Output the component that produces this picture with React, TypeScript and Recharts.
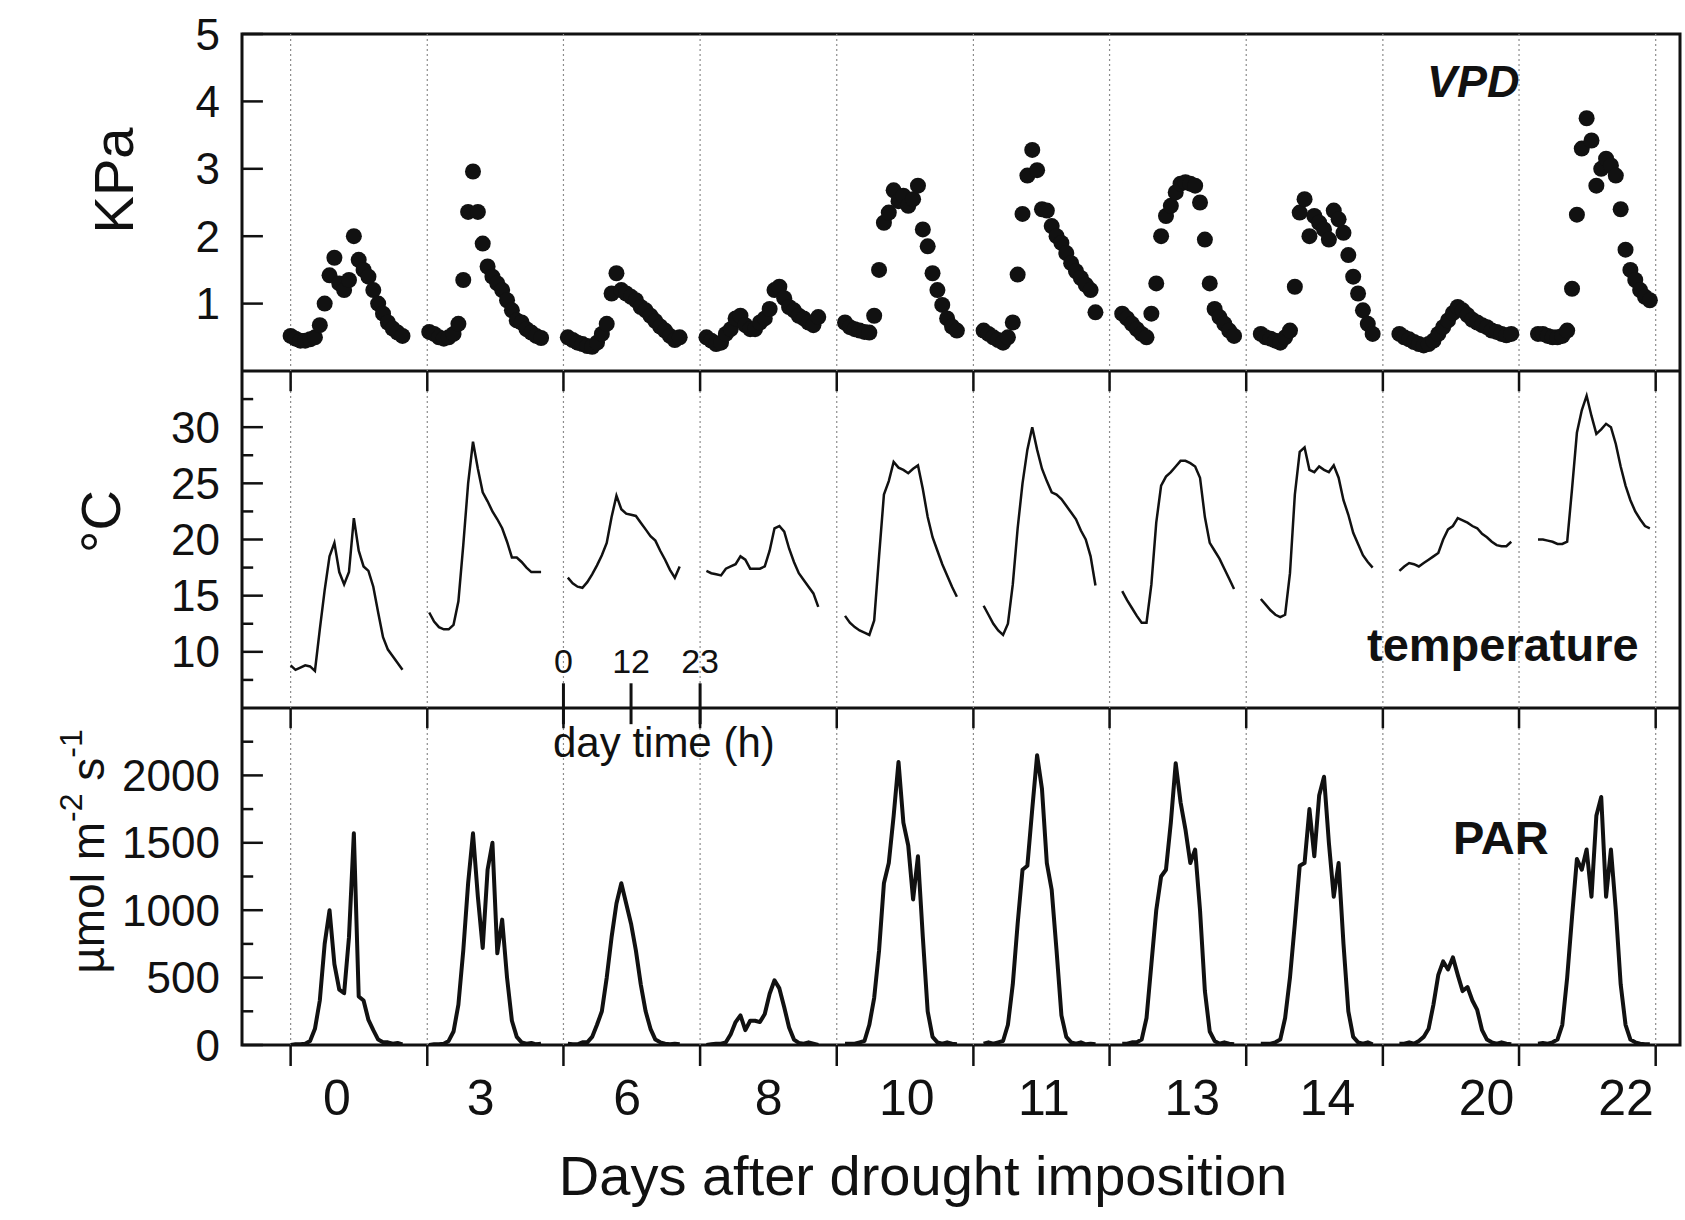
import React from 'react';
import { LineChart, Line, XAxis, YAxis, ReferenceLine, ReferenceArea } from 'recharts';

const FONT = '"Liberation Sans", Arial, Helvetica, sans-serif';
const INK = '#111';

// days after drought imposition (one group of 24 hourly readings per day)
const days = [0, 3, 6, 8, 10, 11, 13, 14, 20, 22];

// VPD, kPa, hours 0..23
const vpdByDay = [
  [0.52, 0.48, 0.45, 0.45, 0.47, 0.5, 0.68, 1.0, 1.42, 1.68, 1.3, 1.2, 1.35, 2.0, 1.65, 1.5, 1.4, 1.2, 1.0, 0.85, 0.72, 0.63, 0.57, 0.52],
  [0.58, 0.55, 0.5, 0.48, 0.5, 0.55, 0.7, 1.35, 2.36, 2.96, 2.36, 1.89, 1.55, 1.4, 1.3, 1.2, 1.05, 0.9, 0.75, 0.72, 0.62, 0.57, 0.52, 0.49],
  [0.5, 0.46, 0.42, 0.4, 0.37, 0.36, 0.42, 0.55, 0.7, 1.15, 1.45, 1.2, 1.15, 1.1, 1.05, 0.95, 0.9, 0.82, 0.74, 0.66, 0.6, 0.52, 0.46, 0.5],
  [0.5, 0.45, 0.4, 0.42, 0.55, 0.62, 0.78, 0.82, 0.68, 0.62, 0.62, 0.72, 0.78, 0.92, 1.2, 1.25, 1.08, 0.95, 0.9, 0.82, 0.78, 0.72, 0.68, 0.8],
  [0.72, 0.65, 0.62, 0.6, 0.58, 0.57, 0.82, 1.5, 2.2, 2.35, 2.68, 2.52, 2.6, 2.45, 2.55, 2.75, 2.1, 1.85, 1.45, 1.2, 0.98, 0.78, 0.66, 0.6],
  [0.6, 0.55, 0.5, 0.46, 0.42, 0.5, 0.72, 1.43, 2.33, 2.9, 3.28, 2.98, 2.4, 2.38, 2.15, 2.0, 1.9, 1.75, 1.6, 1.48, 1.38, 1.28, 1.2, 0.87],
  [0.85, 0.78, 0.7, 0.62, 0.55, 0.5, 0.85, 1.3, 2.0, 2.3, 2.45, 2.65, 2.78, 2.8, 2.78, 2.75, 2.5, 1.95, 1.3, 0.92, 0.8, 0.7, 0.6, 0.52],
  [0.55, 0.5, 0.48, 0.45, 0.42, 0.5, 0.6, 1.25, 2.35, 2.55, 2.0, 2.3, 2.2, 2.1, 1.95, 2.38, 2.25, 2.05, 1.72, 1.4, 1.15, 0.9, 0.7, 0.55],
  [0.55, 0.5, 0.47, 0.43, 0.4, 0.38, 0.4, 0.45, 0.55, 0.65, 0.75, 0.86, 0.95, 0.9, 0.83, 0.76, 0.72, 0.68, 0.65, 0.6, 0.58, 0.55, 0.53, 0.55],
  [0.55, 0.55, 0.52, 0.5, 0.5, 0.52, 0.6, 1.22, 2.32, 3.3, 3.75, 3.42, 2.75, 3.0, 3.15, 3.05, 2.9, 2.4, 1.8, 1.5, 1.35, 1.2, 1.1, 1.05],
];

// air temperature, °C
const tempByDay = [
  [8.8, 8.4, 8.6, 8.8, 8.7, 8.3, 12.0, 15.5, 18.5, 19.7, 17.1, 16.0, 17.1, 21.9, 19.0, 17.6, 17.2, 15.8, 13.5, 11.3, 10.2, 9.6, 9.0, 8.4],
  [13.5, 12.7, 12.2, 12.0, 12.0, 12.4, 14.5, 19.5, 25.0, 28.7, 26.3, 24.2, 23.4, 22.5, 21.8, 21.0, 19.8, 18.4, 18.4, 18.0, 17.5, 17.1, 17.1, 17.1],
  [16.6, 16.1, 15.8, 15.7, 16.2, 16.9, 17.7, 18.6, 19.7, 22.0, 23.9, 22.7, 22.3, 22.2, 22.1, 21.5, 20.9, 20.3, 19.9, 19.0, 18.2, 17.3, 16.6, 17.6],
  [17.2, 17.0, 16.9, 16.8, 17.4, 17.6, 17.8, 18.5, 18.2, 17.4, 17.4, 17.4, 17.6, 19.0, 21.0, 21.2, 20.7, 19.2, 18.0, 17.0, 16.4, 15.8, 15.2, 14.0],
  [13.2, 12.6, 12.2, 11.9, 11.7, 11.5, 12.8, 18.5, 24.0, 25.2, 26.9, 26.4, 26.2, 25.9, 26.3, 26.6, 24.5, 22.0, 20.2, 19.0, 17.8, 16.8, 15.8, 14.9],
  [14.1, 13.3, 12.5, 11.9, 11.5, 12.5, 16.0, 21.0, 25.0, 28.0, 30.0, 28.0, 26.3, 25.2, 24.2, 24.0, 23.6, 23.0, 22.4, 21.8, 20.8, 20.0, 18.5, 15.9],
  [15.4, 14.6, 13.9, 13.2, 12.6, 12.6, 16.0, 21.5, 24.8, 25.6, 26.0, 26.5, 27.0, 27.0, 26.8, 26.5, 25.5, 22.0, 19.7, 19.0, 18.3, 17.4, 16.5, 15.6],
  [14.7, 14.2, 13.7, 13.3, 13.1, 13.3, 17.0, 24.0, 27.8, 28.2, 26.2, 26.0, 26.5, 26.2, 26.0, 26.6, 25.5, 23.5, 22.2, 20.6, 19.6, 18.6, 18.0, 17.5],
  [17.2, 17.6, 17.9, 17.8, 17.6, 17.9, 18.2, 18.5, 18.8, 20.0, 20.9, 21.2, 21.9, 21.7, 21.5, 21.2, 21.0, 20.5, 20.2, 19.8, 19.5, 19.4, 19.4, 19.8],
  [20.0, 20.0, 19.9, 19.8, 19.6, 19.6, 19.8, 24.5, 29.5, 31.5, 32.8, 31.0, 29.4, 29.8, 30.3, 30.0, 28.5, 26.5, 24.8, 23.5, 22.5, 21.8, 21.2, 21.0],
];

// PAR, µmol m-2 s-1
const parByDay = [
  [0, 5, 5, 10, 30, 120, 330, 750, 1000, 600, 410, 384, 800, 1570, 360, 330, 186, 110, 40, 20, 20, 10, 15, 5],
  [0, 5, 5, 10, 30, 100, 300, 700, 1200, 1570, 1100, 720, 1300, 1500, 680, 930, 500, 180, 60, 20, 10, 15, 5, 10],
  [10, 5, 5, 20, 20, 60, 150, 250, 500, 800, 1050, 1200, 1050, 900, 700, 450, 250, 120, 40, 20, 10, 5, 10, 5],
  [0, 5, 10, 10, 20, 80, 170, 220, 110, 180, 180, 170, 230, 380, 480, 420, 280, 130, 40, 15, 10, 20, 10, 0],
  [10, 10, 10, 20, 30, 150, 350, 700, 1200, 1350, 1700, 2100, 1650, 1480, 1080, 1400, 800, 250, 60, 20, 10, 20, 10, 5],
  [10, 20, 10, 20, 30, 150, 450, 900, 1300, 1330, 1750, 2150, 1900, 1350, 1150, 700, 220, 60, 20, 10, 20, 5, 10, 5],
  [10, 10, 20, 20, 40, 200, 600, 1000, 1250, 1300, 1650, 2090, 1800, 1600, 1350, 1450, 1000, 400, 100, 30, 10, 20, 10, 5],
  [10, 10, 10, 20, 40, 200, 500, 900, 1330, 1350, 1750, 1400, 1850, 1990, 1500, 1100, 1350, 750, 250, 60, 20, 10, 20, 5],
  [10, 10, 20, 10, 30, 60, 120, 300, 520, 620, 560, 650, 520, 400, 430, 330, 260, 110, 40, 20, 10, 20, 10, 5],
  [10, 15, 10, 20, 40, 150, 500, 950, 1380, 1300, 1450, 1100, 1700, 1840, 1100, 1450, 1000, 450, 150, 40, 20, 10, 5, 5],
];

// time axis (hour units); each day group starts DAY_STEP after the previous one
const DAY_STEP = 28.5;
const X_DOMAIN: [number, number] = [-10, 285.7];
const separatorX = [0, 28.1, 56.1, 84.2, 112.3, 140.4, 168.4, 196.5, 224.6, 252.6, 280.7];
const dayLabelX = [9.5, 39.1, 69.2, 98.3, 126.7, 154.9, 185.4, 213.2, 245.9, 274.6];
const insetX = [56.1, 70.0, 84.2];
const insetLabels = ['0', '12', '23'];

const vpdTicks = [1, 2, 3, 4, 5];
const tempTicks = [10, 15, 20, 25, 30];
const tempMinor = [7.5, 12.5, 17.5, 22.5, 27.5, 32.5];
const parTicks = [0, 500, 1000, 1500, 2000];
const parMinor = [250, 750, 1250, 1750, 2250];

const VPD_DOMAIN: [number, number] = [0, 5];
const TEMP_DOMAIN: [number, number] = [5, 35];
const PAR_DOMAIN: [number, number] = [0, 2500];

const W = 1685;
const AXIS_W = 242;
const PANEL_H = 337;
const M_RIGHT = 5;
// tick lengths expressed in axis units (x: hours, y: per panel)
const MAJ_LEN = 4.3;
const MIN_LEN = 2.3;

const rowsFor = (vals: number[], i: number) => vals.map((v, h) => ({ x: i * DAY_STEP + h, y: v }));

function yTitle(node: React.ReactNode, dx: number, dy: number, fontSize: number) {
  return {
    content: (p: any) => {
      const vb = p.viewBox || { x: 0, y: 0, width: 0, height: 0 };
      const cx = vb.x + dx;
      const cy = vb.y + vb.height / 2 + dy;
      return (
        <text
          x={cx}
          y={cy}
          dy={fontSize * 0.35}
          transform={`rotate(-90 ${cx} ${cy})`}
          textAnchor="middle"
          fontSize={fontSize}
          fontFamily={FONT}
          fill={INK}
        >
          {node}
        </text>
      );
    },
  };
}

function valueAxis(domain: [number, number], ticks: number[], title: any) {
  return (
    <YAxis
      type="number"
      domain={domain}
      ticks={ticks}
      interval={0}
      width={AXIS_W}
      axisLine={false}
      tickLine={false}
      tickSize={0}
      tickMargin={22}
      tick={{ fontSize: 44, fill: INK, fontFamily: FONT }}
      allowDataOverflow
      label={title}
    />
  );
}

// inward tick marks on the left frame
function yTickMarks(majors: number[], minors: number[]) {
  return [
    ...majors.map((v) => (
      <ReferenceLine
        key={'ymaj' + v}
        segment={[{ x: X_DOMAIN[0], y: v }, { x: X_DOMAIN[0] + MAJ_LEN, y: v }]}
        stroke={INK}
        strokeWidth={2.5}
      />
    )),
    ...minors.map((v) => (
      <ReferenceLine
        key={'ymin' + v}
        segment={[{ x: X_DOMAIN[0], y: v }, { x: X_DOMAIN[0] + MIN_LEN, y: v }]}
        stroke={INK}
        strokeWidth={2.5}
      />
    )),
  ];
}

// inward tick marks on the top frame at each day separator
function topTickMarks(top: number, len: number) {
  return separatorX.map((x) => (
    <ReferenceLine key={'top' + x} segment={[{ x, y: top }, { x, y: top - len }]} stroke={INK} strokeWidth={2.5} />
  ));
}

function separators() {
  return separatorX.map((x) => (
    <ReferenceLine key={'sep' + x} x={x} stroke="#8c8c8c" strokeWidth={1.2} strokeDasharray="2 3" />
  ));
}

function frame(domain: [number, number]) {
  return (
    <ReferenceArea
      x1={X_DOMAIN[0]}
      x2={X_DOMAIN[1]}
      y1={domain[0]}
      y2={domain[1]}
      fill="none"
      fillOpacity={0}
      stroke={INK}
      strokeWidth={3}
    />
  );
}

function VpdPanel() {
  return (
    <LineChart width={W} height={34 + PANEL_H} margin={{ top: 34, right: M_RIGHT, bottom: 0, left: 0 }}>
      <XAxis type="number" dataKey="x" domain={X_DOMAIN} hide allowDataOverflow />
      {valueAxis(VPD_DOMAIN, vpdTicks, yTitle('KPa', 113, -22, 56))}
      {separators()}
      {yTickMarks(vpdTicks, [])}
      {frame(VPD_DOMAIN)}
      {vpdByDay.map((vals, i) => (
        <Line
          key={'vpd' + days[i]}
          data={rowsFor(vals, i)}
          dataKey="y"
          stroke="none"
          dot={{ r: 8, fill: INK, stroke: INK, strokeWidth: 0 }}
          activeDot={false}
          isAnimationActive={false}
        />
      ))}
    </LineChart>
  );
}

function TempPanel() {
  return (
    <LineChart width={W} height={PANEL_H} margin={{ top: 0, right: M_RIGHT, bottom: 0, left: 0 }}>
      <XAxis type="number" dataKey="x" domain={X_DOMAIN} hide allowDataOverflow />
      {valueAxis(TEMP_DOMAIN, tempTicks, yTitle('°C', 100, -18, 56))}
      {separators()}
      {yTickMarks(tempTicks, tempMinor)}
      {topTickMarks(TEMP_DOMAIN[1], 1.8)}
      {frame(TEMP_DOMAIN)}
      {insetX.map((x, k) => (
        <ReferenceLine
          key={'inset' + k}
          segment={[{ x, y: 7.2 }, { x, y: 5 }]}
          stroke={INK}
          strokeWidth={3}
          label={{ value: insetLabels[k], position: 'top', offset: 10, fontSize: 34, fill: INK, fontFamily: FONT }}
        />
      ))}
      {tempByDay.map((vals, i) => (
        <Line
          key={'t' + days[i]}
          data={rowsFor(vals, i)}
          dataKey="y"
          type="linear"
          stroke={INK}
          strokeWidth={2.5}
          dot={false}
          activeDot={false}
          isAnimationActive={false}
        />
      ))}
    </LineChart>
  );
}

const parTitle = [
  <tspan key="a">µmol m</tspan>,
  <tspan key="b" dy={-22} fontSize={32}>-2</tspan>,
  <tspan key="c" dy={22}> s</tspan>,
  <tspan key="d" dy={-22} fontSize={32}>-1</tspan>,
];

function ParPanel() {
  return (
    <LineChart width={W} height={1220 - 708} margin={{ top: 0, right: M_RIGHT, bottom: 0, left: 0 }}>
      <XAxis
        type="number"
        dataKey="x"
        domain={X_DOMAIN}
        ticks={dayLabelX}
        interval={0}
        height={1220 - 708 - PANEL_H}
        axisLine={false}
        tickLine={false}
        tickSize={0}
        tickMargin={34}
        tick={{ fontSize: 50, fill: INK, fontFamily: FONT }}
        tickFormatter={(v: number) => String(days[dayLabelX.indexOf(v)] ?? '')}
        allowDataOverflow
        label={{
          content: (p: any) => {
            const vb = p.viewBox || { x: 0, y: 0, width: 0, height: 0 };
            return (
              <text
                x={vb.x + vb.width / 2 - 38}
                y={vb.y + 150}
                textAnchor="middle"
                fontSize={56}
                fontFamily={FONT}
                fill={INK}
              >
                Days after drought imposition
              </text>
            );
          },
        }}
      />
      {valueAxis(PAR_DOMAIN, parTicks, yTitle(parTitle, 88, -25, 46))}
      {separators()}
      {yTickMarks(parTicks, parMinor)}
      {topTickMarks(PAR_DOMAIN[1], 150)}
      {separatorX.map((x) => (
        <ReferenceLine
          key={'bot' + x}
          segment={[{ x, y: 0 }, { x, y: -156 }]}
          stroke={INK}
          strokeWidth={2.5}
          ifOverflow="visible"
        />
      ))}
      {frame(PAR_DOMAIN)}
      {insetX.map((x, k) => (
        <ReferenceLine key={'inset' + k} segment={[{ x, y: 2500 }, { x, y: 2380 }]} stroke={INK} strokeWidth={3} />
      ))}
      {parByDay.map((vals, i) => (
        <Line
          key={'par' + days[i]}
          data={rowsFor(vals, i)}
          dataKey="y"
          type="linear"
          stroke={INK}
          strokeWidth={4}
          strokeLinejoin="round"
          dot={false}
          activeDot={false}
          isAnimationActive={false}
        />
      ))}
    </LineChart>
  );
}

export default function App() {
  return (
    <div style={{ position: 'absolute', left: 0, top: 0, width: W, height: 1220, background: '#fff', fontFamily: FONT }}>
      <div style={{ position: 'absolute', left: 0, top: 0 }}>
        <VpdPanel />
      </div>
      <div style={{ position: 'absolute', left: 0, top: 371 }}>
        <TempPanel />
      </div>
      <div style={{ position: 'absolute', left: 0, top: 708 }}>
        <ParPanel />
      </div>
      <svg width={W} height={1220} style={{ position: 'absolute', left: 0, top: 0, pointerEvents: 'none' }}>
        <text x={1427} y={97} fontSize={45} fontWeight="bold" fontStyle="italic" fontFamily={FONT} fill={INK}>
          VPD
        </text>
        <text x={1367} y={661} fontSize={47} fontWeight="bold" fontFamily={FONT} fill={INK}>
          temperature
        </text>
        <text x={553} y={757} fontSize={42} fontFamily={FONT} fill={INK}>
          day time (h)
        </text>
        <text x={1453} y={854} fontSize={47} fontWeight="bold" fontFamily={FONT} fill={INK}>
          PAR
        </text>
      </svg>
    </div>
  );
}
